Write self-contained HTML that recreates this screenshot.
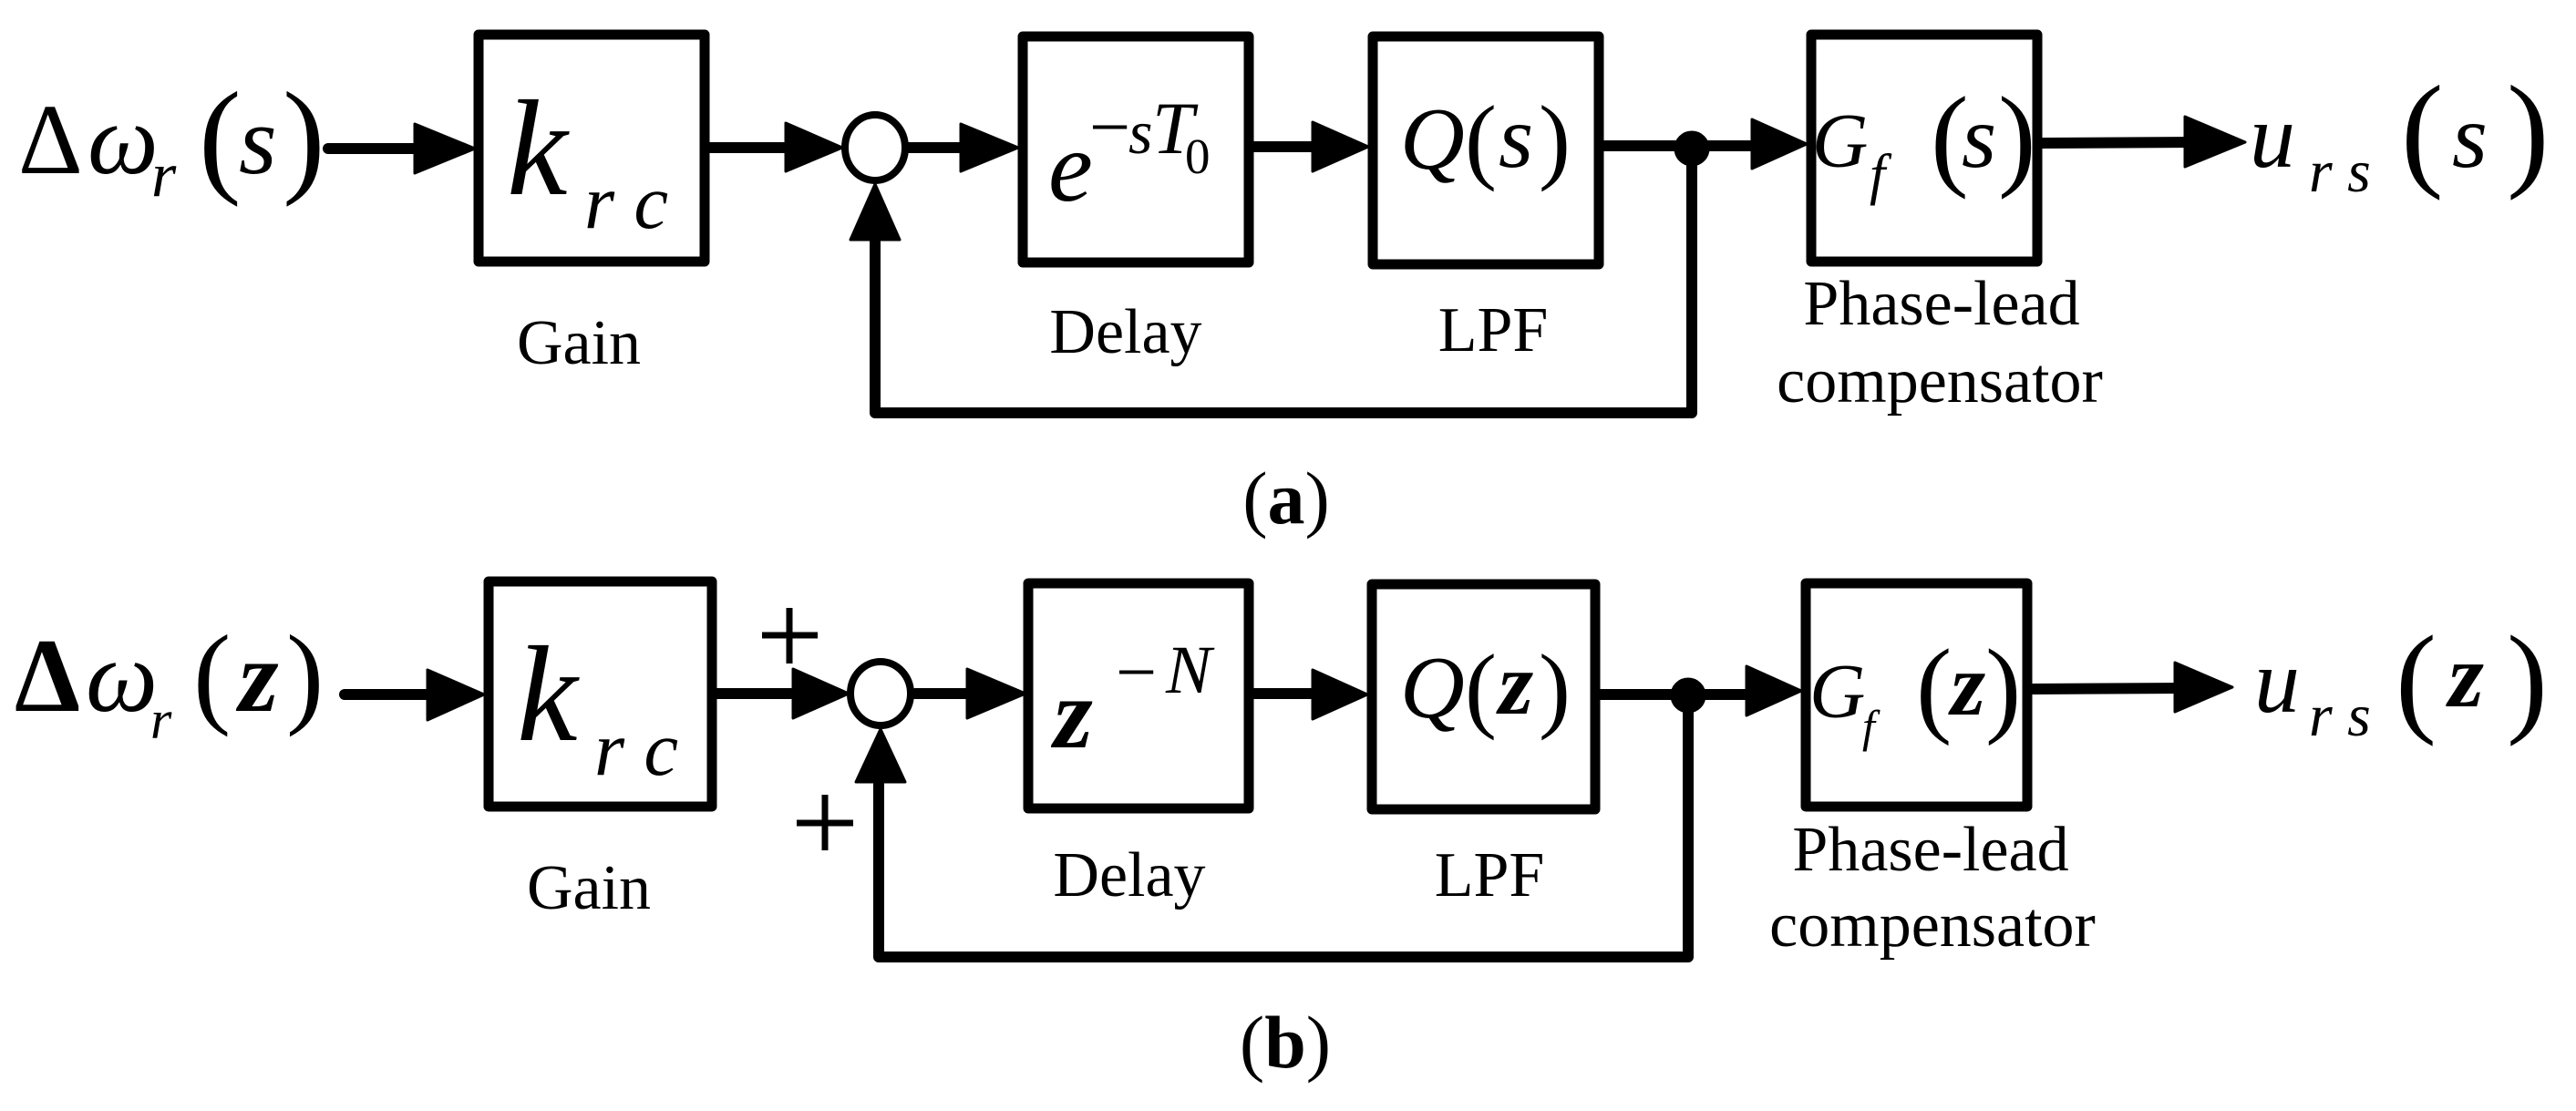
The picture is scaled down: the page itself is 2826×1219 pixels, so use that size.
<!DOCTYPE html>
<html><head><meta charset="utf-8"><style>
html,body{margin:0;padding:0;background:#fff;}
svg{display:block;}
text{font-family:"Liberation Serif",serif;fill:#000;}
.i{font-style:italic;}
.b{font-weight:bold;}
</style></head><body>
<svg width="2826" height="1219" viewBox="0 0 2826 1219" xmlns="http://www.w3.org/2000/svg">
<g fill="none" stroke="#000" stroke-width="11" stroke-linejoin="round">
<!-- row a boxes -->
<rect x="525" y="38" width="248" height="249"/>
<rect x="1122" y="40" width="248" height="248"/>
<rect x="1506" y="40" width="248" height="250"/>
<rect x="1987" y="38" width="248" height="249"/>
<!-- row b boxes -->
<rect x="536" y="638" width="245" height="247"/>
<rect x="1128" y="640" width="242" height="247"/>
<rect x="1505" y="641" width="245" height="247"/>
<rect x="1981" y="640" width="243" height="245"/>
</g>
<g fill="none" stroke="#000" stroke-width="12" stroke-linecap="round" stroke-linejoin="round">
<!-- row a lines -->
<line x1="360" y1="163" x2="470" y2="163"/>
<line x1="778" y1="162" x2="880" y2="162"/>
<line x1="997" y1="162" x2="1070" y2="162"/>
<line x1="1375" y1="161" x2="1455" y2="161"/>
<line x1="1759" y1="160" x2="1935" y2="160"/>
<line x1="2240" y1="157" x2="2410" y2="156"/>
<polyline points="960,260 960,453 1856,453 1856,163"/>
<!-- row b lines -->
<line x1="378" y1="762" x2="485" y2="762"/>
<line x1="786" y1="761" x2="885" y2="761"/>
<line x1="1004" y1="761" x2="1075" y2="761"/>
<line x1="1375" y1="761" x2="1455" y2="761"/>
<line x1="1755" y1="762" x2="1930" y2="762"/>
<line x1="2229" y1="756" x2="2400" y2="755"/>
<polyline points="964,855 964,1050 1852,1050 1852,763"/>
</g>
<g fill="#000" stroke="#000" stroke-width="3" stroke-linejoin="round">
<!-- row a arrowheads -->
<polygon points="455,136 521,163 455,190"/>
<polygon points="862,135 924,162 862,188"/>
<polygon points="1054,136 1117,162 1054,188"/>
<polygon points="1440,134 1501,161 1440,188"/>
<polygon points="1922,131 1982,158 1922,185"/>
<polygon points="2397,128 2463,156 2397,183"/>
<polygon points="933,263 960,202 987,263"/>
<circle cx="1856" cy="163" r="18"/>
<!-- row b arrowheads -->
<polygon points="469,735 531,762 469,790"/>
<polygon points="870,734 931,761 870,788"/>
<polygon points="1061,734 1125,761 1061,788"/>
<polygon points="1440,735 1500,762 1440,789"/>
<polygon points="1916,731 1976,758 1916,785"/>
<polygon points="2386,727 2449,754 2386,781"/>
<polygon points="939,858 966,800 993,858"/>
<circle cx="1852" cy="763" r="18"/>
</g>
<g fill="#fff" stroke="#000" stroke-width="8">
<ellipse cx="960" cy="162" rx="33" ry="36"/>
<ellipse cx="966" cy="761" rx="33" ry="35"/>
</g>
<!-- plus signs -->
<g stroke="#000" stroke-width="7">
<line x1="836" y1="697" x2="897" y2="697"/><line x1="866" y1="667" x2="866" y2="728"/>
<line x1="874" y1="903" x2="936" y2="903"/><line x1="905" y1="872" x2="905" y2="933"/>
</g>

<!-- row a math -->
<text x="20" y="190" font-size="110">Δ</text>
<text x="96" y="190" font-size="110" class="i">ω</text>
<text x="166" y="215" font-size="70" class="i">r</text>
<text x="218" y="197" font-size="140">(</text>
<text x="262" y="190" font-size="107" class="i">s</text>
<text x="310" y="197" font-size="140">)</text>

<text x="556" y="213" font-size="150" class="i">k</text>
<text x="641" y="250" font-size="85" class="i">r c</text>

<text x="1150" y="220" font-size="110" class="i">e</text>
<text x="1195" y="166" font-size="80">−</text>
<text x="1238" y="168" font-size="68" class="i">s</text>
<text x="1264" y="168" font-size="82" class="i">T</text>
<text x="1300" y="190" font-size="55">0</text>

<text x="1536" y="185" font-size="98" class="i">Q</text>
<text x="1607" y="188" font-size="105">(</text>
<text x="1644" y="183" font-size="98" class="i">s</text>
<text x="1688" y="188" font-size="105">)</text>

<text x="1988" y="183" font-size="85" class="i">G</text>
<text x="2051" y="212" font-size="62" class="i">f</text>
<text x="2118" y="192" font-size="125">(</text>
<text x="2152" y="183" font-size="98" class="i">s</text>
<text x="2192" y="192" font-size="125">)</text>

<text x="2468" y="183" font-size="100" class="i">u</text>
<text x="2533" y="210" font-size="66" class="i">r s</text>
<text x="2634" y="190" font-size="140">(</text>
<text x="2690" y="183" font-size="100" class="i">s</text>
<text x="2750" y="190" font-size="140">)</text>

<!-- row b math -->
<text x="16" y="780" font-size="115" class="b">Δ</text>
<text x="94" y="780" font-size="112" class="i">ω</text>
<text x="165" y="810" font-size="60" class="i">r</text>
<text x="212" y="782" font-size="124">(</text>
<text x="262" y="780" font-size="112" class="i b">z</text>
<text x="314" y="782" font-size="124">)</text>

<text x="567" y="812" font-size="150" class="i">k</text>
<text x="652" y="850" font-size="85" class="i">r c</text>

<text x="1156" y="820" font-size="110" class="i b">z</text>
<text x="1224" y="764" font-size="80">−</text>
<text x="1279" y="760" font-size="75" class="i">N</text>

<text x="1536" y="787" font-size="98" class="i">Q</text>
<text x="1607" y="790" font-size="105">(</text>
<text x="1644" y="783" font-size="98" class="i b">z</text>
<text x="1688" y="790" font-size="105">)</text>

<text x="1985" y="787" font-size="85" class="i">G</text>
<text x="2043" y="814" font-size="50" class="i">f</text>
<text x="2102" y="793" font-size="118">(</text>
<text x="2140" y="784" font-size="98" class="i b">z</text>
<text x="2178" y="793" font-size="118">)</text>

<text x="2473" y="781" font-size="100" class="i">u</text>
<text x="2533" y="807" font-size="66" class="i">r s</text>
<text x="2628" y="790" font-size="135">(</text>
<text x="2686" y="775" font-size="100" class="i b">z</text>
<text x="2750" y="790" font-size="135">)</text>

<!-- labels -->
<g font-size="70" text-anchor="middle">
<text x="635" y="399">Gain</text>
<text x="1235" y="387">Delay</text>
<text x="1638" y="385">LPF</text>
<text x="2130" y="356">Phase-lead</text>
<text x="2128" y="441">compensator</text>
<text x="646" y="997">Gain</text>
<text x="1239" y="983">Delay</text>
<text x="1634" y="983">LPF</text>
<text x="2118" y="955">Phase-lead</text>
<text x="2120" y="1038">compensator</text>
</g>
<text x="1411" y="574" font-size="82" text-anchor="middle">(<tspan class="b">a</tspan>)</text>
<text x="1410" y="1171" font-size="82" text-anchor="middle">(<tspan class="b">b</tspan>)</text>
</svg>
</body></html>
